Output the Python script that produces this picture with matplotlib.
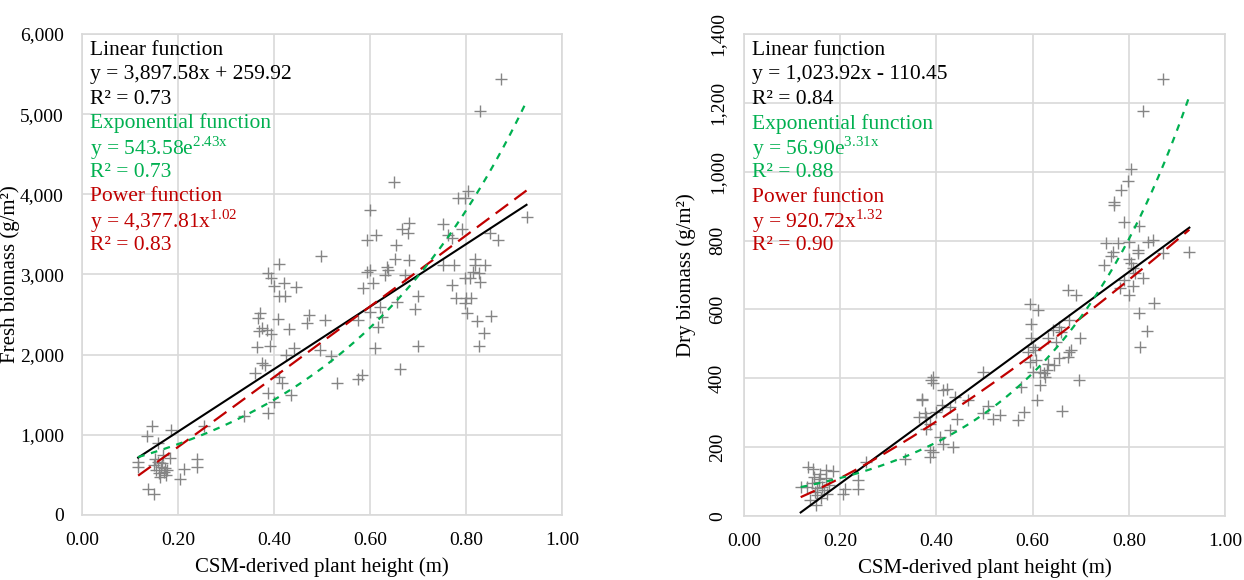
import numpy as np
import matplotlib
matplotlib.use("Agg")
import matplotlib.pyplot as plt
from matplotlib.ticker import FuncFormatter, MultipleLocator

plt.rcParams['font.family'] = ['Liberation Serif', 'DejaVu Serif']
plt.rcParams['mathtext.fontset'] = 'custom'
plt.rcParams['mathtext.rm'] = 'Liberation Serif'

# ---- data ----
fresh_x = [0.145, 0.136, 0.185, 0.158, 0.255, 0.338, 0.117, 0.117, 0.239, 0.239, 0.213, 0.204, 0.138, 0.149,
           0.183, 0.169, 0.150, 0.155, 0.160, 0.165, 0.170, 0.175, 0.158, 0.172, 0.162, 0.178, 0.152, 0.166,
           0.498, 0.410, 0.388, 0.393, 0.399, 0.421, 0.446, 0.411, 0.423, 0.371, 0.367, 0.409, 0.473, 0.468,
           0.507, 0.376, 0.385, 0.369, 0.393, 0.431, 0.364, 0.392, 0.442, 0.496, 0.426, 0.376, 0.381, 0.360,
           0.411, 0.416, 0.518, 0.574, 0.583, 0.532, 0.435, 0.388, 0.399, 0.388,
           0.649, 0.599, 0.594, 0.613, 0.666, 0.681, 0.680, 0.654, 0.652, 0.681, 0.635, 0.637, 0.631, 0.594,
           0.600, 0.607, 0.585, 0.673, 0.699, 0.694, 0.656, 0.600, 0.621, 0.624, 0.576, 0.617, 0.610, 0.699,
           0.663,
           0.872, 0.829, 0.805, 0.784, 0.798, 0.753, 0.763, 0.770, 0.792, 0.850, 0.867, 0.926, 0.753, 0.775,
           0.819, 0.819, 0.840, 0.815, 0.826, 0.798, 0.808, 0.829, 0.770, 0.780, 0.800, 0.810, 0.798, 0.801,
           0.822, 0.852, 0.838, 0.826]
fresh_y = [1114, 989, 1065, 900, 1105, 1238, 665, 600, 700, 603, 570, 455, 320, 265,
           715, 750, 620, 560, 520, 600, 540, 500, 660, 580, 480, 560, 700, 650,
           3229, 3126, 3014, 2951, 2855, 2889, 2847, 2731, 2731, 2523, 2461, 2440, 2494, 2390,
           2431, 2328, 2307, 2294, 2257, 2315, 2099, 2107, 2078, 2057, 1995, 1892, 1870, 1767,
           1725, 1642, 1983, 1692, 1746, 1642, 1496, 1517, 1413, 1268,
           4156, 3803, 3429, 3491, 3562, 3645, 3512, 3367, 3188, 3180, 3097, 3055, 2993, 3035,
           3055, 2890, 2835, 2993, 2731, 2565, 2660, 2535, 2598, 2473, 2431, 2348, 2078, 2107,
           1817,
           5433, 5041, 4040, 3957, 3949, 3624, 3491, 3450, 3562, 3512, 3429, 3720, 3117, 3117,
           3188, 3117, 3117, 3035, 3014, 2951, 2951, 2910, 2868, 2710, 2710, 2710, 2640, 2515,
           2423, 2482, 2274, 2112]

dry_x = [0.118, 0.134, 0.143, 0.159, 0.156, 0.185, 0.138, 0.149, 0.141, 0.148, 0.152, 0.156, 0.163,
         0.167, 0.170, 0.173, 0.177, 0.145, 0.160, 0.152, 0.210, 0.205, 0.238, 0.238, 0.254, 0.335,
         0.170, 0.131,
         0.393, 0.394, 0.370, 0.371, 0.414, 0.422, 0.363, 0.378, 0.377, 0.386, 0.378, 0.411, 0.429,
         0.443, 0.429, 0.407, 0.414, 0.434, 0.386, 0.394, 0.387, 0.465, 0.438, 0.400, 0.389,
         0.497, 0.508, 0.497, 0.518, 0.533, 0.569, 0.583, 0.576, 0.594, 0.597, 0.612, 0.597, 0.600,
         0.590, 0.605, 0.608, 0.594, 0.601, 0.615, 0.615, 0.610, 0.623, 0.626, 0.633, 0.644, 0.633,
         0.643, 0.655, 0.659, 0.648, 0.662, 0.673, 0.691, 0.676, 0.673, 0.676, 0.680, 0.698, 0.696,
         0.655, 0.630,
         0.872, 0.829, 0.805, 0.798, 0.784, 0.770, 0.770, 0.791, 0.821, 0.753, 0.777, 0.801, 0.840,
         0.850, 0.767, 0.763, 0.819, 0.819, 0.871, 0.926, 0.749, 0.801, 0.805, 0.808, 0.812, 0.829,
         0.791, 0.781, 0.808, 0.801, 0.853, 0.821, 0.838, 0.824]
dry_y = [84, 142, 138, 123, 109, 131, 46, 31, 95, 70, 60, 100, 85, 75, 110, 65, 90, 113, 52, 80,
         79, 65, 104, 79, 157, 167, 133, 84,
         404, 385, 341, 336, 365, 370, 288, 288, 298, 268, 254, 322, 317,
         283, 249, 230, 210, 201, 191, 186, 172, 336, 346, 302, 394,
         419, 319, 298, 283, 293, 278, 302, 375, 617, 559, 598, 516, 491,
         477, 482, 453, 448, 419, 419, 380, 336, 414, 404, 443, 438, 516,
         540, 550, 535, 506, 304, 656, 642, 569, 462, 477, 482, 516, 394,
         458, 424,
         1270, 1177, 1007, 974, 947, 913, 903, 853, 843, 792, 792, 797, 797,
         802, 768, 754, 773, 763, 765, 768, 729, 746, 734, 720, 705, 691,
         686, 662, 667, 643, 618, 589, 536, 491]

# fitted equations as printed in the chart
fresh_fit = {'lin': (3897.58, 259.92), 'exp': (543.58, 2.43), 'pow': (4377.81, 1.02)}
dry_fit = {'lin': (1023.92, -110.45), 'exp': (56.90, 3.31), 'pow': (920.72, 1.32)}

fresh_text = [("Linear function", 'k'), ("y = 3,897.58x + 259.92", 'k'), ("R² = 0.73", 'k'),
              ("Exponential function", 'g'), (r"y = 543.58e$^{\mathregular{2.43x}}$", 'g'), ("R² = 0.73", 'g'),
              ("Power function", 'r'), (r"y = 4,377.81x$^{\mathregular{1.02}}$", 'r'), ("R² = 0.83", 'r')]
dry_text = [("Linear function", 'k'), ("y = 1,023.92x - 110.45", 'k'), ("R² = 0.84", 'k'),
            ("Exponential function", 'g'), (r"y = 56.90e$^{\mathregular{3.31x}}$", 'g'), ("R² = 0.88", 'g'),
            ("Power function", 'r'), (r"y = 920.72x$^{\mathregular{1.32}}$", 'r'), ("R² = 0.90", 'r')]

colors = {'k': 'black', 'g': '#00b050', 'r': '#c00000'}
grid_c = '#d9d9d9'


def draw_panel(ax, xs, ys, fit, texts, ymax, ystep, ylabel, rotate_y, ylab_x):
    ax.plot(xs, ys, linestyle='none', marker='+', markersize=8, markeredgewidth=1.0,
            color='#858585', zorder=2)
    xx = np.linspace(min(xs), max(xs), 200)
    a, b = fit['lin']
    ax.plot(xx, a * xx + b, color='black', lw=1.5, zorder=3)
    a, b = fit['pow']
    ax.plot(xx, a * xx ** b, color='#c00000', lw=1.6, dashes=(7, 3.5), zorder=3)
    a, b = fit['exp']
    ax.plot(xx, a * np.exp(b * xx), color='#00b050', lw=1.6, dashes=(3, 3), zorder=3)

    ax.set_xlim(0, 1)
    ax.set_ylim(0, ymax)
    ax.xaxis.set_major_locator(MultipleLocator(0.2))
    ax.yaxis.set_major_locator(MultipleLocator(ystep))
    ax.xaxis.set_major_formatter(FuncFormatter(lambda v, p: f"{v:.2f}"))
    ax.yaxis.set_major_formatter(FuncFormatter(lambda v, p: f"{int(round(v)):,}"))
    ax.grid(True, color=grid_c, lw=1.2)
    ax.set_axisbelow(True)
    for s in ax.spines.values():
        s.set_color(grid_c)
        s.set_linewidth(1.2)
    ax.tick_params(axis='x', length=0, labelsize=14, pad=12)
    ax.tick_params(axis='y', length=0, labelsize=14, pad=13)
    if rotate_y:
        for lab in ax.get_yticklabels():
            lab.set_rotation(90)
            lab.set_va('center')
    ax.set_xlabel("CSM-derived plant height (m)", fontsize=15)
    ax.xaxis.set_label_coords(0.5, -0.088)
    ax.set_ylabel(ylabel, fontsize=15)
    ax.yaxis.set_label_coords(ylab_x, 0.5)

    for i, (txt, c) in enumerate(texts):
        ax.text(0.016, 0.966 - i * 0.0507, txt, transform=ax.transAxes, color=colors[c],
                fontsize=15.5, va='center', ha='left', zorder=4)


fig = plt.figure(figsize=(12.44, 5.80), dpi=100)
ax1 = fig.add_axes([0.0659, 0.1121, 0.3859, 0.8293])
ax2 = fig.add_axes([0.598, 0.1103, 0.3867, 0.831])

draw_panel(ax1, fresh_x, fresh_y, fresh_fit, fresh_text, 6000, 1000, "Fresh biomass (g/m²)", False, -0.13)
draw_panel(ax2, dry_x, dry_y, dry_fit, dry_text, 1400, 200, "Dry biomass (g/m²)", True, -0.100)

fig.savefig("out.png", dpi=100)
